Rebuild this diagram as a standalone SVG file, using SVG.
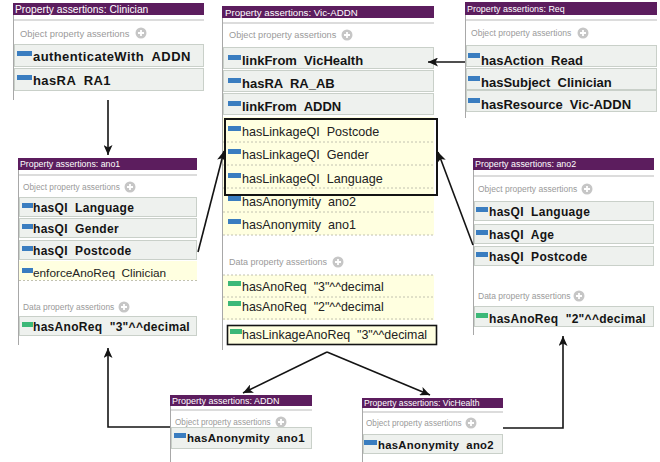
<svg xmlns="http://www.w3.org/2000/svg" xmlns:xlink="http://www.w3.org/1999/xlink" width="660" height="462" viewBox="0 0 660 462">
<style>
text{font-family:"Liberation Sans",Arial,sans-serif;white-space:pre}
.hdr{fill:#5c1d5e}
.ht{fill:#fff}
.band{fill:#dcdcdc}
.edge{stroke:#a8a8a8;stroke-width:1}
.lbl{fill:#9a9a9a}
.row{fill:#eef1ee;stroke:#c9d0c9;stroke-width:1}
.yel{fill:#ffffe0}
.dot{stroke:#c2c2b0;stroke-width:1;stroke-dasharray:2 2}
.b{font-weight:bold;fill:#141414}
.r{fill:#222}
.ib{fill:#3a7dc0}
.ig{fill:#3cb878}
.hl{fill:none;stroke:#141414;stroke-width:2}
.conn{fill:none;stroke:#141414;stroke-width:1.6;marker-end:url(#ah)}
</style>
<defs>
<marker id="ah" markerUnits="userSpaceOnUse" markerWidth="11" markerHeight="9" refX="10" refY="4.5" orient="auto">
<path d="M0,0 L10,4.5 L0,9 L2.5,4.5 z" fill="#141414"/>
</marker>
<g id="plus"><circle r="5.5" fill="#c6c6c6"/><path d="M-3,0 H3 M0,-3 V3" stroke="#fff" stroke-width="1.8"/></g>
</defs>
<rect width="660" height="462" fill="#fff"/>

<g id="clinician">
<rect class="hdr" x="13" y="3" width="191" height="12"/>
<text class="ht" x="15" y="12.5" font-size="10.3">Property assertions: Clinician</text>
<rect class="band" x="13" y="19" width="191" height="2"/>
<line class="edge" x1="13.5" y1="15" x2="13.5" y2="100"/>
<text class="lbl" x="20" y="36.5" font-size="9.4">Object property assertions</text>
<use xlink:href="#plus" x="141" y="33"/>
<rect class="row" x="14.5" y="44.5" width="189" height="22"/>
<rect class="ib" x="17" y="51" width="15" height="5"/>
<text class="b" x="33" y="61" font-size="13" letter-spacing=".4">authenticateWith  ADDN</text>
<rect class="row" x="14.5" y="68.5" width="189" height="22"/>
<rect class="ib" x="17" y="75" width="15" height="5"/>
<text class="b" x="33" y="85" font-size="13" letter-spacing=".4">hasRA  RA1</text>
</g>

<g id="vic-addn">
<rect class="hdr" x="222" y="6" width="212" height="12"/>
<text class="ht" x="225" y="15.5" font-size="9.7">Property assertions: Vic-ADDN</text>
<rect class="band" x="222" y="22" width="212" height="2"/>
<line class="edge" x1="222.5" y1="18" x2="222.5" y2="350"/>
<text class="lbl" x="229" y="38" font-size="9.2">Object property assertions</text>
<use xlink:href="#plus" x="347" y="35"/>
<rect class="row" x="223.5" y="47.5" width="210" height="21"/>
<rect class="ib" x="228" y="55" width="13" height="5"/>
<text class="b" x="242" y="65" font-size="13">linkFrom  VicHealth</text>
<rect class="row" x="223.5" y="70.5" width="210" height="21"/>
<rect class="ib" x="228" y="78" width="13" height="5"/>
<text class="b" x="242" y="88" font-size="13">hasRA  RA_AB</text>
<rect class="row" x="223.5" y="93.5" width="210" height="21"/>
<rect class="ib" x="228" y="101" width="13" height="5"/>
<text class="b" x="242" y="111" font-size="13">linkFrom  ADDN</text>
<rect class="yel" x="223" y="117" width="211" height="118"/>
<line class="dot" x1="223" y1="142" x2="434" y2="142"/>
<line class="dot" x1="223" y1="165" x2="434" y2="165"/>
<line class="dot" x1="223" y1="188" x2="434" y2="188"/>
<line class="dot" x1="223" y1="212" x2="434" y2="212"/>
<line class="dot" x1="223" y1="235" x2="434" y2="235"/>
<rect class="ib" x="228" y="126" width="13" height="5"/>
<text class="r" x="242" y="136" font-size="12.6">hasLinkageQI  Postcode</text>
<rect class="ib" x="228" y="149" width="13" height="5"/>
<text class="r" x="242" y="159" font-size="12.6">hasLinkageQI  Gender</text>
<rect class="ib" x="228" y="173" width="13" height="5"/>
<text class="r" x="242" y="183" font-size="12.6">hasLinkageQI  Language</text>
<rect class="ib" x="228" y="196" width="13" height="5"/>
<text class="r" x="242" y="206" font-size="12.6">hasAnonymity  ano2</text>
<rect class="ib" x="228" y="219" width="13" height="5"/>
<text class="r" x="242" y="229" font-size="12.6">hasAnonymity  ano1</text>
<rect class="hl" x="225" y="119" width="212" height="76"/>
<text class="lbl" x="229" y="265" font-size="9">Data property assertions</text>
<use xlink:href="#plus" x="338" y="262"/>
<rect class="yel" x="223" y="275" width="211" height="45"/>
<line class="dot" x1="223" y1="275" x2="434" y2="275"/>
<line class="dot" x1="223" y1="297" x2="434" y2="297"/>
<line class="dot" x1="223" y1="319" x2="434" y2="319"/>
<rect class="ig" x="228" y="281" width="13" height="5"/>
<text class="r" x="242" y="290.5" font-size="12.4">hasAnoReq  "3"^^decimal</text>
<rect class="ig" x="228" y="301" width="13" height="5"/>
<text class="r" x="242" y="310.5" font-size="12.4">hasAnoReq  "2"^^decimal</text>
<rect x="227.5" y="325.5" width="209" height="19" fill="#ffffe0" stroke="#141414" stroke-width="1.6"/>
<rect class="ig" x="230" y="329" width="12" height="5"/>
<text class="r" x="242" y="339" font-size="12.4">hasLinkageAnoReq  "3"^^decimal</text>
</g>

<g id="req">
<rect class="hdr" x="465" y="2" width="192" height="13"/>
<text class="ht" x="467" y="11.5" font-size="8.9">Property assertions: Req</text>
<rect class="band" x="465" y="19" width="192" height="2"/>
<line class="edge" x1="465.5" y1="15" x2="465.5" y2="118"/>
<text class="lbl" x="471" y="36" font-size="8.6">Object property assertions</text>
<use xlink:href="#plus" x="583" y="33"/>
<rect class="row" x="466.5" y="45.5" width="190" height="21"/>
<rect class="ib" x="468" y="53" width="12" height="5"/>
<text class="b" x="481" y="64.5" font-size="13">hasAction  Read</text>
<rect class="row" x="466.5" y="68.5" width="190" height="21"/>
<rect class="ib" x="468" y="76" width="12" height="5"/>
<text class="b" x="481" y="87" font-size="13">hasSubject  Clinician</text>
<rect class="row" x="466.5" y="90.5" width="190" height="21"/>
<rect class="ib" x="468" y="98" width="12" height="5"/>
<text class="b" x="481" y="108.5" font-size="13">hasResource  Vic-ADDN</text>
</g>

<g id="ano1">
<rect class="hdr" x="18" y="158" width="179" height="12"/>
<text class="ht" x="20" y="167" font-size="8.8">Property assertions: ano1</text>
<rect class="band" x="18" y="174" width="179" height="2"/>
<line class="edge" x1="18.5" y1="170" x2="18.5" y2="345"/>
<text class="lbl" x="23" y="190" font-size="8.3">Object property assertions</text>
<use xlink:href="#plus" x="130" y="187"/>
<rect class="row" x="19.5" y="197.5" width="177" height="19"/>
<rect class="ib" x="22" y="203" width="11" height="5"/>
<text class="b" x="33" y="211.5" font-size="12" letter-spacing=".3">hasQI  Language</text>
<rect class="row" x="19.5" y="218.5" width="177" height="19"/>
<rect class="ib" x="22" y="224" width="11" height="5"/>
<text class="b" x="33" y="232.5" font-size="12" letter-spacing=".3">hasQI  Gender</text>
<rect class="row" x="19.5" y="240.5" width="177" height="19"/>
<rect class="ib" x="22" y="246" width="11" height="5"/>
<text class="b" x="33" y="254.5" font-size="12" letter-spacing=".3">hasQI  Postcode</text>
<rect class="yel" x="19" y="261" width="178" height="19"/>
<line class="dot" x1="19" y1="280.5" x2="197" y2="280.5"/>
<rect class="ib" x="22" y="268" width="11" height="5"/>
<text class="r" x="33" y="276.5" font-size="11.8">enforceAnoReq  Clinician</text>
<text class="lbl" x="23" y="310" font-size="8.4">Data property assertions</text>
<use xlink:href="#plus" x="124" y="307"/>
<rect class="row" x="19.5" y="316.5" width="177" height="19"/>
<rect class="ig" x="22" y="322" width="11" height="5"/>
<text class="b" x="33" y="331" font-size="12" letter-spacing=".3">hasAnoReq  "3"^^decimal</text>
</g>

<g id="ano2">
<rect class="hdr" x="473" y="158" width="181" height="12"/>
<text class="ht" x="475" y="167" font-size="8.9">Property assertions: ano2</text>
<rect class="band" x="473" y="175" width="181" height="2"/>
<line class="edge" x1="473.5" y1="170" x2="473.5" y2="335"/>
<text class="lbl" x="478" y="192" font-size="8.5">Object property assertions</text>
<use xlink:href="#plus" x="587" y="189"/>
<rect class="row" x="474.5" y="201.5" width="179" height="19"/>
<rect class="ib" x="476" y="207" width="12" height="5"/>
<text class="b" x="489" y="216" font-size="12" letter-spacing=".3">hasQI  Language</text>
<rect class="row" x="474.5" y="224.5" width="179" height="19"/>
<rect class="ib" x="476" y="230" width="12" height="5"/>
<text class="b" x="489" y="239" font-size="12" letter-spacing=".3">hasQI  Age</text>
<rect class="row" x="474.5" y="246.5" width="179" height="19"/>
<rect class="ib" x="476" y="252" width="12" height="5"/>
<text class="b" x="489" y="261" font-size="12" letter-spacing=".3">hasQI  Postcode</text>
<text class="lbl" x="478" y="299" font-size="8.5">Data property assertions</text>
<use xlink:href="#plus" x="579" y="296"/>
<rect class="row" x="474.5" y="306.5" width="179" height="20"/>
<rect class="ig" x="476" y="313" width="12" height="5"/>
<text class="b" x="489" y="322.5" font-size="12" letter-spacing=".3">hasAnoReq  "2"^^decimal</text>
</g>

<g id="addn">
<rect class="hdr" x="170" y="395" width="142" height="11"/>
<text class="ht" x="172" y="403.5" font-size="9">Property assertions: ADDN</text>
<rect class="band" x="170" y="409" width="142" height="2"/>
<line class="edge" x1="170.5" y1="406" x2="170.5" y2="462"/>
<text class="lbl" x="175" y="425" font-size="8.2">Object property assertions</text>
<use xlink:href="#plus" x="281" y="422"/>
<rect class="row" x="171.5" y="427.5" width="140" height="21"/>
<rect class="ib" x="174" y="433" width="12" height="5"/>
<text class="b" x="187" y="441.5" font-size="11.5" letter-spacing=".3">hasAnonymity  ano1</text>
</g>

<g id="vichealth">
<rect class="hdr" x="362" y="398" width="141" height="10"/>
<text class="ht" x="364" y="405.8" font-size="8.6">Property assertions: VicHealth</text>
<rect class="band" x="362" y="411" width="141" height="2"/>
<line class="edge" x1="362.5" y1="408" x2="362.5" y2="462"/>
<text class="lbl" x="366" y="426" font-size="8.2">Object property assertions</text>
<use xlink:href="#plus" x="471" y="423"/>
<rect class="row" x="363.5" y="434.5" width="139" height="19"/>
<rect class="ib" x="364" y="440" width="13" height="5"/>
<text class="b" x="378" y="448.5" font-size="11.3" letter-spacing=".3">hasAnonymity  ano2</text>
</g>

<g id="connectors">
<path class="conn" d="M465,62 H428"/>
<path class="conn" d="M108,100 V155"/>
<path class="conn" d="M198,252 L224,151"/>
<path class="conn" d="M473,245 L438,152"/>
<path class="conn" d="M327,352 L243,393"/>
<path class="conn" d="M327,352 L430,395"/>
<path class="conn" d="M170,427 H108 V348"/>
<path class="conn" d="M503,428 H563 V336"/>
</g>
</svg>
